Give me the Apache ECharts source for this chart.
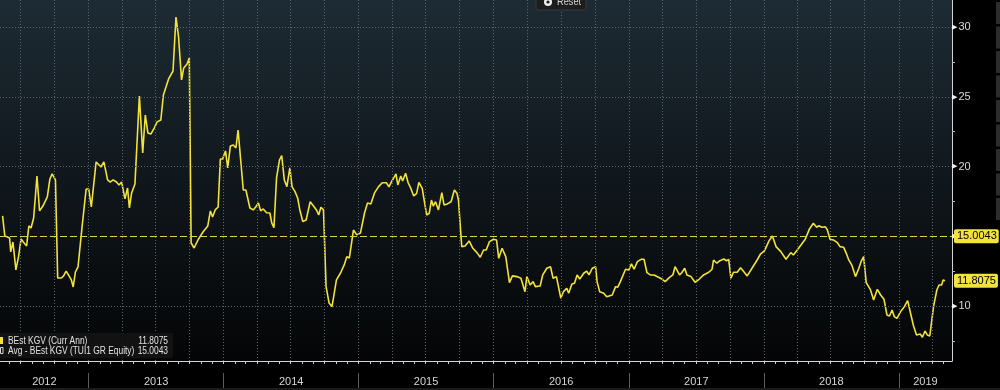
<!DOCTYPE html>
<html><head><meta charset="utf-8">
<script src="https://cdn.jsdelivr.net/npm/echarts@6/dist/echarts.min.js"></script>
<style>html,body{margin:0;padding:0;background:#000;overflow:hidden}#chart{width:1000px;height:390px}</style>
</head><body><div id="chart"></div>
<script>
// ---- data ----
const dates = [
'2012-05-13','2012-05-19','2012-05-26','2012-06-01','2012-06-04','2012-06-10','2012-06-18','2012-06-25','2012-07-02','2012-07-08','2012-07-17','2012-07-23','2012-07-29','2012-08-05','2012-08-14','2012-08-21','2012-08-30','2012-09-11','2012-09-18','2012-09-24','2012-10-03','2012-10-09','2012-10-19','2012-10-25','2012-11-01','2012-11-06','2012-11-15','2012-11-20','2012-11-26','2012-12-03','2012-12-14','2012-12-25',
'2013-01-01','2013-01-08','2013-01-21','2013-02-03','2013-02-11','2013-02-21','2013-02-28','2013-03-08','2013-03-17','2013-03-24','2013-03-31','2013-04-09','2013-04-16','2013-04-21','2013-04-27','2013-05-06','2013-05-18','2013-05-27','2013-06-03','2013-06-10','2013-06-18','2013-06-27','2013-07-05','2013-07-15','2013-07-22','2013-07-29','2013-08-05','2013-08-17','2013-08-25','2013-09-01','2013-09-09','2013-09-15','2013-09-24','2013-09-30','2013-10-05','2013-10-13','2013-10-25','2013-11-06','2013-11-19','2013-11-26','2013-12-02','2013-12-09','2013-12-17','2013-12-23','2013-12-29',
'2014-01-06','2014-01-12','2014-01-19','2014-01-27','2014-02-03','2014-02-09','2014-02-14','2014-02-23','2014-03-02','2014-03-13','2014-03-22','2014-03-29','2014-04-05','2014-04-11','2014-04-18','2014-04-27','2014-05-06','2014-05-11','2014-05-17','2014-05-24','2014-06-01','2014-06-07','2014-06-14','2014-06-21','2014-06-29','2014-07-05','2014-07-13','2014-07-20','2014-07-26','2014-08-03','2014-08-12','2014-08-23','2014-09-01','2014-09-09','2014-09-15','2014-09-21','2014-09-28','2014-10-05','2014-10-13','2014-10-21','2014-11-02','2014-11-13','2014-11-23','2014-11-30','2014-12-07','2014-12-18','2014-12-27',
'2015-01-06','2015-01-17','2015-01-25','2015-02-03','2015-02-13','2015-02-24','2015-03-06','2015-03-17','2015-03-24','2015-03-31','2015-04-07','2015-04-12','2015-04-17','2015-04-25','2015-04-30','2015-05-08','2015-05-15','2015-05-21','2015-05-30','2015-06-07','2015-06-13','2015-06-22','2015-07-04','2015-07-11','2015-07-17','2015-07-22','2015-07-28','2015-08-05','2015-08-14','2015-08-20','2015-08-29','2015-09-08','2015-09-17','2015-09-24','2015-09-28','2015-10-07','2015-10-16','2015-10-27','2015-11-06','2015-11-17','2015-11-26','2015-12-05','2015-12-12','2015-12-21',
'2016-01-01','2016-01-09','2016-01-15','2016-01-24','2016-02-03','2016-02-13','2016-02-21','2016-03-04','2016-03-15','2016-03-26','2016-03-31','2016-04-09','2016-04-17','2016-04-23','2016-05-06','2016-05-13','2016-05-24','2016-06-03','2016-06-10','2016-06-19','2016-07-01','2016-07-08','2016-07-17','2016-07-22','2016-07-31','2016-08-07','2016-08-14','2016-08-21','2016-09-01','2016-09-09','2016-09-15','2016-09-24','2016-10-03','2016-10-07','2016-10-14','2016-10-25','2016-11-02','2016-11-17','2016-11-26','2016-12-02','2016-12-09','2016-12-23',
'2017-01-01','2017-01-08','2017-01-15','2017-01-24','2017-02-03','2017-02-11','2017-02-19','2017-02-28','2017-03-10','2017-03-22','2017-03-31','2017-04-09','2017-04-21','2017-04-30','2017-05-06','2017-05-11','2017-05-18','2017-05-24','2017-06-01','2017-06-07','2017-06-18','2017-06-29','2017-07-08','2017-07-22','2017-08-05','2017-08-14','2017-08-18','2017-08-27','2017-09-04','2017-09-15','2017-09-22','2017-09-28','2017-10-04','2017-10-11','2017-10-21','2017-10-30','2017-11-08','2017-11-17','2017-11-30','2017-12-14','2017-12-23',
'2018-01-03','2018-01-15','2018-01-24','2018-01-28','2018-02-03','2018-02-16','2018-03-02','2018-03-15','2018-03-22','2018-04-05','2018-04-23','2018-05-04','2018-05-15','2018-05-24','2018-05-30','2018-06-07','2018-06-16','2018-06-22','2018-06-29','2018-07-08','2018-07-19','2018-07-26','2018-08-05','2018-08-12','2018-08-18','2018-08-27','2018-09-06','2018-09-15','2018-09-21','2018-09-28','2018-10-05','2018-10-16','2018-10-25','2018-11-04','2018-11-13','2018-11-22','2018-11-30','2018-12-07','2018-12-14','2018-12-20','2018-12-27',
'2019-01-06','2019-01-15','2019-01-25','2019-02-03','2019-02-10','2019-02-18','2019-02-23','2019-02-28','2019-03-06','2019-03-13','2019-03-19','2019-03-26','2019-04-05','2019-04-14','2019-04-20','2019-04-27','2019-05-01','2019-05-06'
];
const values = [
16.46,15.02,14.95,14.88,13.88,14.59,12.59,13.52,14.81,14.59,14.31,15.74,15.60,16.31,19.32,16.82,17.17,17.82,19.11,19.47,19.04,12.01,12.01,12.16,12.51,12.44,11.87,11.37,12.44,12.80,15.67,18.39,
18.39,17.10,20.33,19.97,20.33,19.04,18.89,19.04,18.89,18.68,18.89,17.68,18.46,17.03,18.11,18.75,25.06,20.97,23.70,22.41,22.33,22.76,23.20,23.34,25.13,25.70,26.28,26.85,30.72,29.29,26.21,27.07,27.35,27.78,14.52,14.16,14.81,15.31,15.74,16.82,16.39,16.89,17.10,20.54,20.54,
21.12,19.90,21.47,21.55,21.33,22.62,22.76,18.32,18.32,17.03,16.89,17.12,17.39,16.82,16.96,16.69,16.67,15.96,15.62,19.18,20.47,20.78,19.04,18.56,19.90,18.54,18.20,17.75,16.89,16.05,16.17,17.48,17.17,16.89,16.53,17.08,16.89,11.39,10.22,9.96,11.87,12.37,12.95,13.54,13.45,15.45,15.10,
15.24,16.67,17.39,17.32,18.11,18.56,18.84,18.84,18.54,18.92,19.23,19.47,18.68,19.32,18.97,19.52,18.84,18.51,17.89,18.08,18.87,18.44,16.53,16.65,17.60,17.17,17.48,16.89,18.13,17.25,17.32,17.48,18.32,18.08,17.60,14.26,14.31,14.67,14.14,13.83,13.50,14.02,14.02,14.62,
14.79,14.74,13.42,14.14,13.54,11.68,12.16,12.11,11.99,11.03,12.11,11.51,11.75,11.39,11.44,12.23,12.71,12.82,11.99,12.11,10.56,11.03,11.27,10.92,11.58,11.63,12.23,11.94,12.35,12.51,12.23,12.71,12.82,11.75,11.03,10.92,10.67,10.79,11.39,11.35,11.75,12.64,
12.59,13.02,12.64,13.18,13.35,13.35,12.39,12.23,12.23,12.06,11.94,11.75,12.06,12.23,12.82,12.87,12.23,12.39,12.71,12.23,12.11,11.70,11.87,12.23,12.42,12.64,13.30,13.07,13.25,13.37,13.25,13.35,11.99,12.42,12.42,12.75,12.46,12.16,12.71,13.30,13.73,
13.97,14.67,15.02,14.74,14.26,13.90,13.35,13.83,13.66,14.14,14.79,15.50,15.93,15.65,15.76,15.65,15.69,15.45,14.79,14.74,14.54,14.26,14.21,13.78,13.35,12.94,12.11,12.71,13.18,13.54,11.68,11.20,10.44,11.20,10.79,10.49,9.36,9.29,9.72,9.24,9.12,
9.60,9.91,10.39,9.36,8.57,7.93,8.05,8.00,7.76,8.21,7.93,7.86,9.96,11.15,11.51,11.51,11.87,11.8075
];
const avgValue = 15.0043;
const seriesName = 'BEst KGV (Curr Ann)';
const avgName = 'Avg - BEst KGV (TUI1 GR Equity)';
const yLabelValues = [10, 15, 20, 25, 30];
const yMinorTickValues = [7.5, 12.5, 17.5, 22.5, 27.5];
const yGridValues = [10, 20, 25, 30];
const xRange = ['2012-05-06', '2019-05-25'];
const yRange = [6.06, 31.94];

// ---- helpers (axis decoration positions, not data) ----
const parseDate = s => { const [y, m, d] = s.split('-').map(Number); return new Date(y, m - 1, d).getTime(); };
const tMin = parseDate(xRange[0]), tMax = parseDate(xRange[1]);
const y0 = new Date(tMin).getFullYear(), y1 = new Date(tMax).getFullYear();
const monthTicks = [], quarterLines = [], yearStarts = [], yearMids = [];
for (let y = y0; y <= y1; y++) {
  for (let m = 0; m < 12; m++) {
    const t = new Date(y, m, 1).getTime();
    if (t < tMin || t > tMax) continue;
    monthTicks.push(t);
    if (m % 3 === 0) quarterLines.push(t);
    if (m === 0) yearStarts.push(t);
  }
  const s = Math.max(tMin, new Date(y, 0, 1).getTime());
  const e = Math.min(tMax, new Date(y + 1, 0, 1).getTime());
  yearMids.push((s + e) / 2);
}
const lastValue = values[values.length - 1];
const seriesData = dates.map((d, i) => [parseDate(d), values[i]]);
const FONT = "'Liberation Sans','DejaVu Sans',sans-serif";
const YEL = '#f2e23c';

const tagLabel = txt => ({
  show: true, position: 'end', distance: 2, formatter: txt,
  color: '#000', backgroundColor: YEL, padding: [2, 2, 1, 3], borderRadius: 2,
  fontSize: 11, fontFamily: FONT
});

const txt = (x, y, text, opts) => Object.assign({
  type: 'text', z: 101, x: x, y: y, scaleX: 0.84, scaleY: 1,
  style: Object.assign({ text: text, fill: '#e2e2e2', fontSize: 10, fontFamily: FONT, verticalAlign: 'middle', textVerticalAlign: 'middle' }, opts || {})
});

const chart = echarts.init(document.getElementById('chart'), null, { renderer: 'canvas' });
chart.setOption({
  backgroundColor: '#000',
  animation: false,
  grid: {
    left: 0, right: 48, top: 0, bottom: 29, show: true, borderWidth: 0,
    backgroundColor: new echarts.graphic.LinearGradient(0, 0, 0, 1, [
      { offset: 0, color: '#1d2b34' }, { offset: 0.5, color: '#10171c' }, { offset: 1, color: '#040506' }
    ])
  },
  xAxis: [
    {
      type: 'value', min: tMin, max: tMax, position: 'bottom',
      axisLine: { show: true, onZero: false, lineStyle: { color: '#d4d4d4', width: 1 } },
      axisTick: { show: true, customValues: monthTicks, length: 3, lineStyle: { color: '#cfcfcf' } },
      axisLabel: { show: false }, splitLine: { show: false }
    },
    {
      type: 'value', min: tMin, max: tMax, position: 'bottom', offset: 12,
      axisLine: { show: false, onZero: false },
      axisTick: { show: true, customValues: yearStarts, length: 15, lineStyle: { color: '#5c5c5c' } },
      axisLabel: {
        show: true, customValues: yearMids, margin: 3,
        formatter: v => String(new Date(v).getFullYear()),
        color: '#d6d6d6', fontSize: 11, fontFamily: FONT
      },
      splitLine: { show: false }
    }
  ],
  yAxis: {
    type: 'value', position: 'right', min: yRange[0], max: yRange[1],
    axisLine: { show: true, onZero: false, lineStyle: { color: '#d4d4d4', width: 1 } },
    axisTick: { show: true, customValues: yMinorTickValues, length: 3, lineStyle: { color: '#bdbdbd' } },
    axisLabel: {
      show: true, customValues: yLabelValues, margin: 0,
      formatter: v => '{a|\u25B6}{n|' + v + '}',
      rich: {
        a: { fontSize: 7, color: '#f0f0f0', padding: [0, 1, 0, 0], fontFamily: 'DejaVu Sans' },
        n: { fontSize: 11, color: '#dadada', fontFamily: FONT }
      }
    },
    splitLine: { show: false }
  },
  series: [
    {
      type: 'line', name: 'gridlines', data: seriesData, z: 1, silent: true,
      showSymbol: false, lineStyle: { opacity: 0 }, tooltip: { show: false },
      markLine: {
        silent: true, symbol: ['none', 'none'], animation: false,
        label: { show: false },
        lineStyle: { color: '#5a6670', type: [1, 2], width: 1 },
        emphasis: { disabled: true },
        data: [
          ...yGridValues.map(v => ({ yAxis: v })),
          ...quarterLines.map(t => ({ xAxis: t }))
        ]
      }
    },
    {
      type: 'line', name: seriesName, z: 3,
      data: seriesData,
      showSymbol: false, smooth: false,
      lineStyle: { color: YEL, width: 1.6 },
      markLine: {
        silent: true, symbol: ['none', 'none'], animation: false,
        data: [
          { yAxis: avgValue, lineStyle: { color: '#ddd04a', type: [7, 3], width: 1 }, label: tagLabel(String(avgValue)) },
          { yAxis: lastValue, lineStyle: { color: 'rgba(0,0,0,0)', width: 0 }, label: tagLabel(String(lastValue)) }
        ]
      }
    }
  ],
  graphic: [
    { type: 'rect', z: 100, shape: { x: 0, y: 333, width: 173, height: 25 }, style: { fill: 'rgba(20,20,20,0.92)' } },
    { type: 'rect', z: 101, shape: { x: 0, y: 337, width: 3, height: 7 }, style: { fill: YEL } },
    txt(8, 341, seriesName),
    txt(168, 341, String(lastValue), { align: 'right', textAlign: 'right' }),
    { type: 'rect', z: 101, shape: { x: 0.5, y: 347.5, width: 2.5, height: 6 }, style: { fill: 'none', stroke: '#d8d8d8', lineWidth: 1 } },
    txt(8, 351, avgName),
    txt(168, 351, String(avgValue), { align: 'right', textAlign: 'right' }),
    { type: 'rect', z: 100, shape: { x: 536, y: -6, width: 50, height: 16, r: 2 }, style: { fill: '#1d1d1d', stroke: '#3a3a3a', lineWidth: 1 } },
    { type: 'circle', z: 101, shape: { cx: 548, cy: 2, r: 4 }, style: { fill: '#ececec' } },
    { type: 'circle', z: 102, shape: { cx: 548, cy: 2, r: 1.6 }, style: { fill: '#1d1d1d' } },
    txt(557, 2, 'Reset', { fontSize: 11, fill: '#d4d4d4' }),
    ...Array.from({ length: 9 }, (_, i) => ({ type: 'rect', z: 100, shape: { x: 996, y: 2 + i * 24.5, width: 4, height: 22 }, style: { fill: '#2d2d2d' } })),
    { type: 'rect', z: 100, shape: { x: 0, y: 388, width: 1000, height: 2 }, style: { fill: '#1b1b1b' } }
  ]
});
</script></body></html>
